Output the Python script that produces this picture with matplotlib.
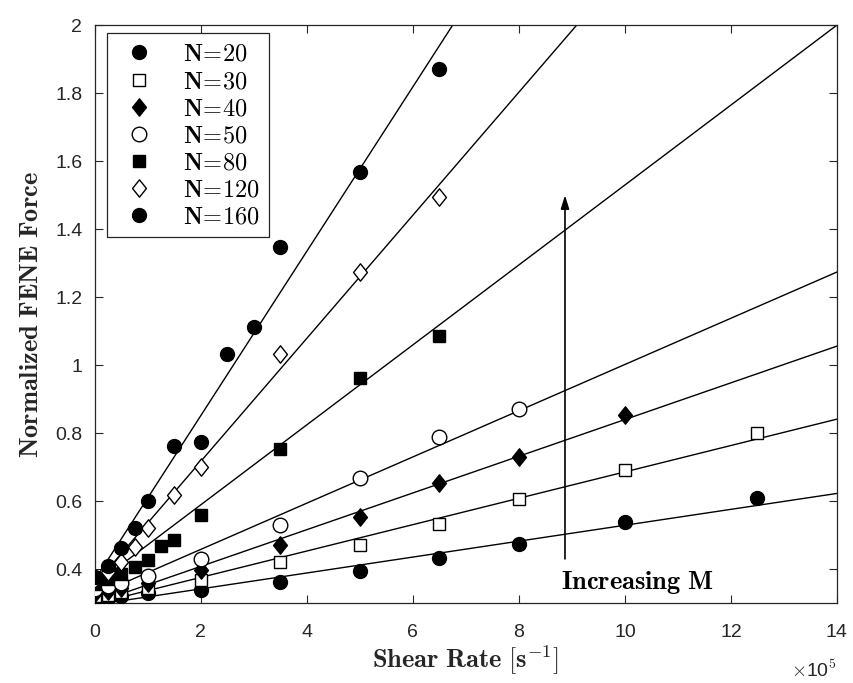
import numpy as np
import matplotlib
matplotlib.use("Agg")
import matplotlib.pyplot as plt
from matplotlib.path import Path

plt.rcParams['mathtext.fontset'] = 'cm'

# ---- data (shear rate in units of 1e5 s^-1) ----
labels = ["N=20", "N=30", "N=40", "N=50", "N=80", "N=120", "N=160"]

x_n20 = [0, 0.25, 0.5, 1, 2, 3.5, 5, 6.5, 8, 10, 12.5]
y_n20 = [0.31, 0.315, 0.32, 0.33, 0.338, 0.363, 0.394, 0.434, 0.474, 0.538, 0.608]

x_n30 = [0, 0.25, 0.5, 1, 2, 3.5, 5, 6.5, 8, 10, 12.5]
y_n30 = [0.32, 0.325, 0.332, 0.345, 0.368, 0.420, 0.471, 0.534, 0.605, 0.691, 0.80]

x_n40 = [0, 0.25, 0.5, 1, 2, 3.5, 5, 6.5, 8, 10]
y_n40 = [0.33, 0.335, 0.345, 0.36, 0.397, 0.471, 0.554, 0.652, 0.730, 0.853]

x_n50 = [0, 0.25, 0.5, 1, 2, 3.5, 5, 6.5, 8]
y_n50 = [0.34, 0.35, 0.36, 0.38, 0.431, 0.531, 0.667, 0.789, 0.870]

x_n80 = [0, 0.25, 0.5, 0.75, 1, 1.25, 1.5, 2, 3.5, 5, 6.5]
y_n80 = [0.355, 0.37, 0.385, 0.407, 0.426, 0.468, 0.485, 0.56, 0.752, 0.961, 1.085]

x_n120 = [0, 0.25, 0.5, 0.75, 1, 1.5, 2, 3.5, 5, 6.5]
y_n120 = [0.37, 0.39, 0.42, 0.466, 0.52, 0.618, 0.70, 1.034, 1.274, 1.495]

x_n160 = [0, 0.25, 0.5, 0.75, 1, 1.5, 2, 2.5, 3, 3.5, 5, 6.5]
y_n160 = [0.377, 0.41, 0.461, 0.521, 0.60, 0.762, 0.773, 1.034, 1.113, 1.347, 1.569, 1.870]

# linear fits (slope per 1e5 s^-1, intercept)
fit_slope = [0.0234, 0.0388, 0.054, 0.068, 0.1176, 0.181, 0.2418]
fit_intercept = [0.295, 0.298, 0.30, 0.322, 0.354, 0.355, 0.368]

xs = [x_n20, x_n30, x_n40, x_n50, x_n80, x_n120, x_n160]
ys = [y_n20, y_n30, y_n40, y_n50, y_n80, y_n120, y_n160]

# MATLAB-like diamond (taller than wide)
diamond = Path([(0, 1), (0.8, 0), (0, -1), (-0.8, 0), (0, 1)],
               [Path.MOVETO, Path.LINETO, Path.LINETO, Path.LINETO, Path.CLOSEPOLY])

markers = ['o', 's', diamond, 'o', 's', diamond, 'o']
faces = ['k', 'w', 'k', 'w', 'k', 'w', 'k']
sizes = [10, 8.8, 12.5, 10.5, 8.8, 12.5, 10]

fig = plt.figure(figsize=(8.54, 6.83), dpi=100)
ax = fig.add_axes([0.111, 0.117, 0.869, 0.846])

xline = np.linspace(0, 14, 200)
for m, b in zip(fit_slope, fit_intercept):
    ax.plot(xline, m * xline + b, color='k', lw=1.0, zorder=2)

for x, y, lab, mk, fc, ms in zip(xs, ys, labels, markers, faces, sizes):
    ax.plot(x, y, linestyle='none', marker=mk, markersize=ms,
            markerfacecolor=fc, markeredgecolor='k', markeredgewidth=1.0,
            zorder=3, label=r'$\mathbf{' + lab.replace('=', '\\!=\\!') + '}$')

ax.set_xlim(0, 14)
ax.set_ylim(0.3, 2.0)
ax.set_xticks(np.arange(0, 15, 2))
ax.set_yticks([0.4, 0.6, 0.8, 1.0, 1.2, 1.4, 1.6, 1.8, 2.0])
ax.set_yticklabels(['0.4', '0.6', '0.8', '1', '1.2', '1.4', '1.6', '1.8', '2'])
ax.set_xticklabels([str(v) for v in range(0, 15, 2)])
ax.tick_params(direction='in', top=True, right=True, length=6, width=0.8,
               labelsize=14, colors='#262626')
ax.tick_params(axis='x', pad=15)
ax.tick_params(axis='y', pad=9)
for lbl in ax.get_xticklabels() + ax.get_yticklabels():
    lbl.set_fontfamily('Liberation Sans')
for sp in ax.spines.values():
    sp.set_color('#262626')
    sp.set_linewidth(0.9)

ax.set_xlabel(r'$\mathbf{Shear\ Rate\ [s^{-1}]}$', fontsize=19, color='#262626', labelpad=2)
ax.set_ylabel(r'$\mathbf{Normalized\ FENE\ Force}$', fontsize=19, color='#262626', labelpad=8)

ax.text(1.0, -0.098, r'$\times$10$^5$', transform=ax.transAxes, ha='right', va='top',
        fontsize=14, family='Liberation Sans', color='#262626')

ax.annotate('', xy=(8.87, 1.5), xytext=(8.87, 0.43),
            arrowprops=dict(arrowstyle='-|>,head_length=0.8,head_width=0.25',
                            color='k', lw=1.2, shrinkA=0, shrinkB=0), zorder=4)
ax.text(8.8, 0.362, r'$\mathbf{Increasing\ M}$', fontsize=19, ha='left', va='center')

leg = ax.legend(loc='upper left', bbox_to_anchor=(0.016, 0.986), frameon=True, fancybox=False,
                edgecolor='#262626', framealpha=1, fontsize=17.5, handlelength=2.0,
                handletextpad=0.8, borderpad=0.35, labelspacing=0.13, borderaxespad=0.0)
leg.get_frame().set_linewidth(0.9)

fig.savefig('out.png', dpi=100)
